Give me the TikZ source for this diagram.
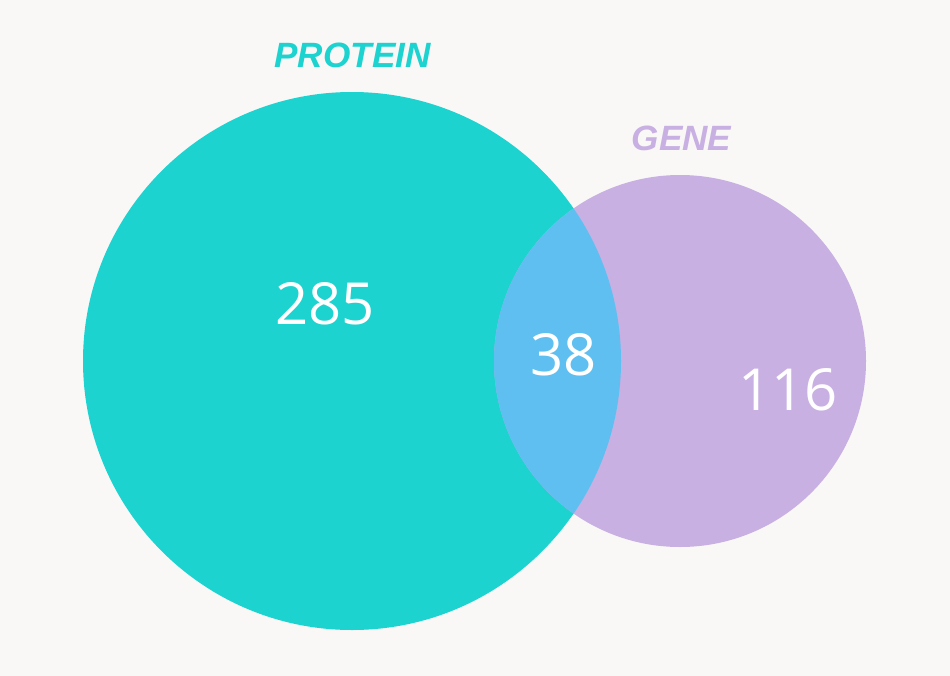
\documentclass[tikz,border=0pt]{standalone}
\usepackage{fontspec}
\setmainfont{Open Sans}
\newfontfamily\labelfont{Liberation Sans}
\usepackage{xcolor}
\usepackage{tikz}
\usetikzlibrary{positioning}
\definecolor{bgwhite}{HTML}{F9F8F7}
\definecolor{proteinteal}{HTML}{1CD3D0}
\definecolor{genelilac}{HTML}{C8B0E2}
\definecolor{overlapblue}{HTML}{5FBFF0}

\begin{document}
\begin{tikzpicture}[x=0.02cm,y=-0.02cm,
    countlabel/.style={text=white,font=\fontsize{33}{33}\selectfont,inner sep=0pt},
    setlabel/.style={font=\labelfont\bfseries\itshape\fontsize{20}{20}\selectfont,inner sep=0pt}]
    \fill[bgwhite] (0,0) rectangle (950,676);
    \coordinate (proteinc) at (352,361);
    \coordinate (genec) at (680,361);
    \fill[proteinteal] (proteinc) circle (269);
    \fill[genelilac] (genec) circle (186);
    % overlap of the two sets
    \begin{scope}
      \clip (proteinc) circle (269);
      \fill[overlapblue] (genec) circle (186);
    \end{scope}
    \node[setlabel,text=proteinteal] (protein) at (352.5,55) {PROTEIN};
    \node[setlabel,text=genelilac] (gene) at (681.5,138.5) {GENE};
    \node[countlabel] (onlyprotein) at (325,303.5) {285};
    \node[countlabel] (both) at (563.5,355) {38};
    \node[countlabel] (onlygene) at (788,389.5) {116};
\end{tikzpicture}
\end{document}
